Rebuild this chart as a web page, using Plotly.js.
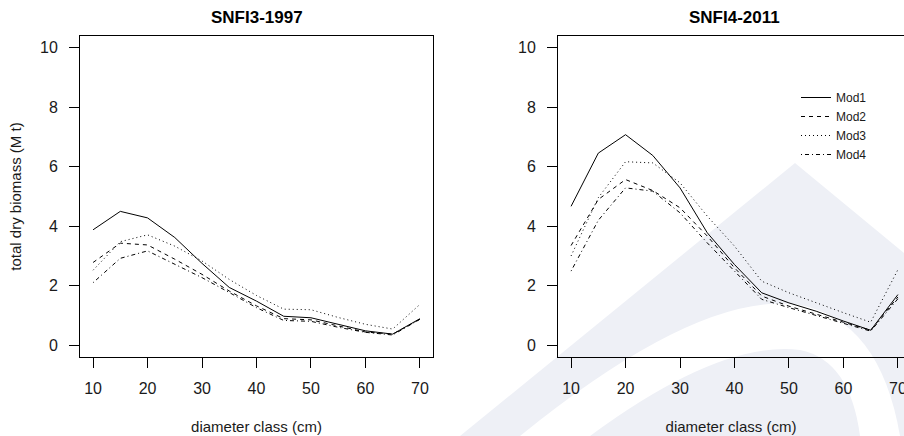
<!DOCTYPE html>
<html>
<head>
<meta charset="utf-8">
<script src="https://cdn.plot.ly/plotly-3.0.1.min.js"></script>
<style>
  html, body { margin: 0; padding: 0; background: #ffffff; }
  #chart { width: 904px; height: 436px; }
</style>
</head>
<body>
<div id="chart"></div>
<script>
// ---- data ----
const diameterClasses = [10, 15, 20, 25, 30, 35, 40, 45, 50, 55, 60, 65, 70];
const modelNames = ["Mod1", "Mod2", "Mod3", "Mod4"];
const panelTitles = ["SNFI3-1997", "SNFI4-2011"];

// SNFI3-1997 (total dry biomass, M t)
const mod1_1997 = [3.88, 4.50, 4.28, 3.62, 2.75, 1.94, 1.48, 0.97, 0.92, 0.70, 0.48, 0.37, 0.89];
const mod2_1997 = [2.78, 3.43, 3.37, 2.89, 2.38, 1.82, 1.32, 0.89, 0.85, 0.65, 0.44, 0.37, 0.87];
const mod3_1997 = [2.52, 3.48, 3.71, 3.33, 2.83, 2.21, 1.67, 1.21, 1.19, 0.93, 0.70, 0.54, 1.37];
const mod4_1997 = [2.10, 2.92, 3.17, 2.72, 2.27, 1.77, 1.26, 0.83, 0.80, 0.60, 0.43, 0.34, 0.87];

// SNFI4-2011
const mod1_2011 = [4.67, 6.46, 7.08, 6.38, 5.29, 3.78, 2.71, 1.76, 1.42, 1.14, 0.81, 0.50, 1.70];
const mod2_2011 = [3.35, 4.90, 5.57, 5.20, 4.62, 3.67, 2.60, 1.65, 1.31, 1.03, 0.77, 0.50, 1.62];
const mod3_2011 = [3.00, 4.96, 6.17, 6.13, 5.46, 4.34, 3.33, 2.15, 1.76, 1.42, 1.09, 0.77, 2.54];
const mod4_2011 = [2.49, 4.20, 5.29, 5.18, 4.45, 3.44, 2.49, 1.54, 1.26, 1.00, 0.75, 0.47, 1.56];

const xTicks = [10, 20, 30, 40, 50, 60, 70];
const yTicks = [0, 2, 4, 6, 8, 10];

// ---- styles ----
const W = 904, H = 436;
const FONT = "Liberation Sans, Arial, sans-serif";
const TXT = "#1a1a1a";
const dashes = ["solid", "4px,4px", "1px,3px", "1px,3px,4px,3px"];

const series1997 = [mod1_1997, mod2_1997, mod3_1997, mod4_1997];
const series2011 = [mod1_2011, mod2_2011, mod3_2011, mod4_2011];

const traces = [];
series1997.forEach((ys, i) => traces.push({
  x: diameterClasses, y: ys, type: "scatter", mode: "lines",
  name: modelNames[i], legendgroup: modelNames[i], showlegend: false,
  xaxis: "x", yaxis: "y",
  line: { color: "#000000", width: 1, dash: dashes[i] },
  hoverinfo: "x+y+name"
}));
series2011.forEach((ys, i) => traces.push({
  x: diameterClasses, y: ys, type: "scatter", mode: "lines",
  name: modelNames[i], legendgroup: modelNames[i], showlegend: true,
  xaxis: "x2", yaxis: "y2",
  line: { color: "#000000", width: 1, dash: dashes[i] },
  hoverinfo: "x+y+name"
}));

const px = v => v / W;
const py = v => 1 - v / H;

const boxTop = 36, boxBottom = 357;
const yDomain = [py(boxBottom), py(boxTop)];
const xRange = [7.6, 72.4];
const pxPerUnit = (433 - 80) / (xRange[1] - xRange[0]);
const x2Right = xRange[0] + (W - 558) / pxPerUnit;

const tickFont = { family: FONT, size: 16, color: TXT };
const titleFont = { family: FONT, size: 15, color: TXT };

function xAxis(domain, range) {
  return {
    domain: domain, range: range, tickmode: "array", tickvals: xTicks,
    ticks: "outside", ticklen: 10, tickwidth: 1, tickcolor: "#000",
    showline: true, mirror: true, linecolor: "#000", linewidth: 1,
    showgrid: false, zeroline: false, tickfont: tickFont,
    ticklabelstandoff: 7, ticklabeloverflow: "allow",
    title: { text: "diameter class (cm)", font: titleFont, standoff: 25 },
    fixedrange: true
  };
}
function yAxis(anchor, mirror, withTitle) {
  return {
    domain: yDomain, range: [-0.4, 10.4], tickmode: "array", tickvals: yTicks,
    ticks: "outside", ticklen: 10, tickwidth: 1, tickcolor: "#000",
    showline: true, mirror: mirror, linecolor: "#000", linewidth: 1,
    showgrid: false, zeroline: false, tickfont: tickFont, anchor: anchor,
    ticklabelstandoff: 8,
    title: withTitle ? { text: "total dry biomass (M t)", font: titleFont, standoff: 14 } : { text: "" },
    fixedrange: true
  };
}

// faint watermark in the lower right (decoration of the source image)
const wm = "#eef0f6";
function pathOf(points) {
  return points.map((p, i) => (i ? "L" : "M") + px(p[0]) + "," + py(p[1])).join(" ") + " Z";
}
const shapes = [
  { type: "path", xref: "paper", yref: "paper", layer: "below", line: { width: 0 }, fillcolor: wm,
    path: pathOf([[460, 436], [795, 163], [910, 258], [910, 436]]) },
  { type: "path", xref: "paper", yref: "paper", layer: "below", line: { width: 0 }, fillcolor: "#ffffff",
    path: "M" + px(520) + "," + py(436) + " Q" + px(700) + "," + py(290) + " " + px(800) + "," + py(305) +
          " Q" + px(880) + "," + py(320) + " " + px(900) + "," + py(436) + " Z" },
  { type: "path", xref: "paper", yref: "paper", layer: "below", line: { width: 0 }, fillcolor: wm,
    path: "M" + px(590) + "," + py(436) + " Q" + px(720) + "," + py(340) + " " + px(800) + "," + py(350) +
          " Q" + px(850) + "," + py(360) + " " + px(860) + "," + py(436) + " Z" }
];

const layout = {
  width: W, height: H,
  margin: { l: 0, r: 0, t: 0, b: 0, pad: 0 },
  paper_bgcolor: "#ffffff", plot_bgcolor: "rgba(0,0,0,0)",
  font: { family: FONT, color: TXT },
  showlegend: true,
  legend: {
    x: px(796), y: py(83), xanchor: "left", yanchor: "top",
    bgcolor: "rgba(0,0,0,0)", borderwidth: 0,
    font: { family: FONT, size: 12, color: TXT },
    tracegroupgap: 0
  },
  xaxis: Object.assign(xAxis([px(80), px(433)], xRange), { anchor: "y" }),
  yaxis: yAxis("x", true, true),
  xaxis2: Object.assign(xAxis([px(558), 1], [xRange[0], x2Right]), { anchor: "y2" }),
  yaxis2: yAxis("x2", false, false),
  shapes: shapes,
  annotations: [
    { text: "<b>" + panelTitles[0] + "</b>", xref: "paper", yref: "paper", x: px(256.5), y: py(17),
      showarrow: false, font: { family: FONT, size: 17, color: "#000" }, xanchor: "center", yanchor: "middle" },
    { text: "<b>" + panelTitles[1] + "</b>", xref: "paper", yref: "paper", x: px(734.5), y: py(17),
      showarrow: false, font: { family: FONT, size: 17, color: "#000" }, xanchor: "center", yanchor: "middle" }
  ]
};

Plotly.newPlot("chart", traces, layout, { displayModeBar: false, staticPlot: true });
</script>
</body>
</html>
